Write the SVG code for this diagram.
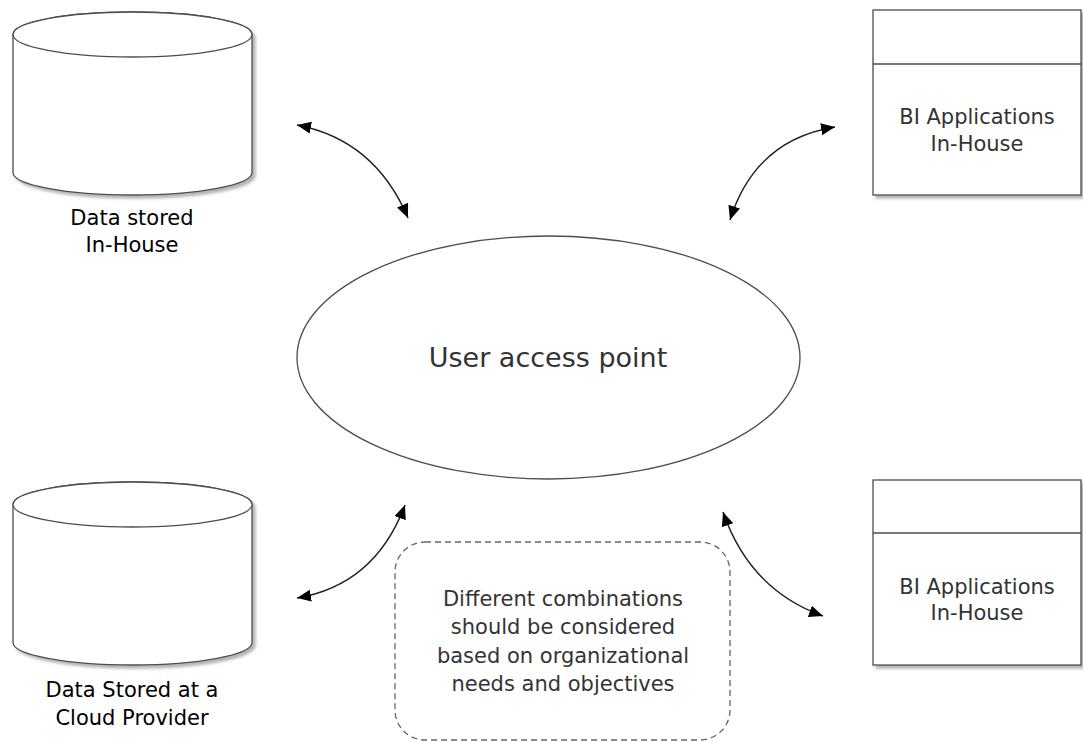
<svg xmlns="http://www.w3.org/2000/svg" width="1083" height="742" viewBox="0 0 1083 742">
<style>
.sh{fill:#fff;stroke:#4d4d4d;stroke-width:1.3;}
.lbl{font-family:"DejaVu Sans",Verdana,sans-serif;font-size:21px;fill:#000;text-anchor:middle;}
.in{font-family:"DejaVu Sans",Verdana,sans-serif;font-size:21px;fill:#333;text-anchor:middle;}
.big{font-family:"DejaVu Sans",Verdana,sans-serif;font-size:27px;fill:#333;text-anchor:middle;}
.con{fill:none;stroke:#222;stroke-width:1.5;marker-start:url(#ah);marker-end:url(#ah);}
</style>
<defs>
<filter id="ds" x="-10%" y="-10%" width="125%" height="125%">
<feDropShadow dx="3" dy="3" stdDeviation="1.5" flood-color="#000" flood-opacity="0.3"/>
</filter>
<marker id="ah" markerUnits="userSpaceOnUse" markerWidth="16" markerHeight="14" refX="14" refY="6" orient="auto-start-reverse">
<path d="M0,0 L14,6 L0,12 z" fill="#000"/>
</marker>
</defs>
<rect width="1083" height="742" fill="#fff"/>
<g id="cyl-inhouse">
<path class="sh" filter="url(#ds)" d="M13,34.5 L13,172.5 A119.5,22.5 0 0 0 252,172.5 L252,34.5 A119.5,22.5 0 0 0 13,34.5 z"/>
<ellipse class="sh" cx="132.5" cy="34.5" rx="119.5" ry="22.5"/>
<text class="lbl" x="132" y="225">Data stored</text>
<text class="lbl" x="132" y="252">In-House</text>
</g>
<g id="cyl-cloud">
<path class="sh" filter="url(#ds)" d="M13,504.5 L13,642.5 A119.5,22.5 0 0 0 252,642.5 L252,504.5 A119.5,22.5 0 0 0 13,504.5 z"/>
<ellipse class="sh" cx="132.5" cy="504.5" rx="119.5" ry="22.5"/>
<text class="lbl" x="132" y="697">Data Stored at a</text>
<text class="lbl" x="132" y="725">Cloud Provider</text>
</g>
<g id="bi-top">
<rect class="sh" filter="url(#ds)" x="873" y="10" width="208" height="185"/>
<line class="sh" x1="873" y1="64" x2="1081" y2="64"/>
<text class="in" x="977" y="124">BI Applications</text>
<text class="in" x="977" y="151">In-House</text>
</g>
<g id="bi-bottom">
<rect class="sh" filter="url(#ds)" x="873" y="480" width="208" height="185"/>
<line class="sh" x1="873" y1="533" x2="1081" y2="533"/>
<text class="in" x="977" y="594">BI Applications</text>
<text class="in" x="977" y="620">In-House</text>
</g>
<g id="access">
<ellipse class="sh" cx="548.5" cy="357.5" rx="251.5" ry="121.5"/>
<text class="big" x="548" y="367">User access point</text>
</g>
<g id="note">
<rect x="395" y="542" width="335" height="198" rx="30" ry="30" fill="#fff" stroke="#666" stroke-width="1.3" stroke-dasharray="6,4"/>
<text class="in" x="563" y="606">Different combinations</text>
<text class="in" x="563" y="634">should be considered</text>
<text class="in" x="563" y="663">based on organizational</text>
<text class="in" x="563" y="691">needs and objectives</text>
</g>
<g id="connectors">
<path class="con" d="M297,125 Q375,140 408,218"/>
<path class="con" d="M835,127 Q755,140 730,220"/>
<path class="con" d="M405,505 Q375,585 297,598"/>
<path class="con" d="M723,512 Q750,590 823,616"/>
</g>
</svg>
